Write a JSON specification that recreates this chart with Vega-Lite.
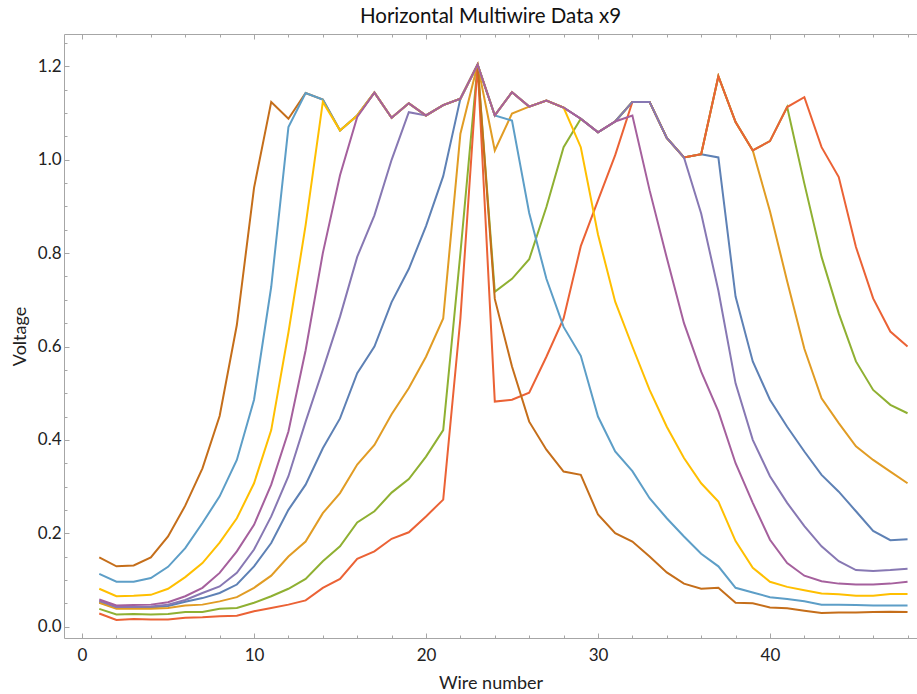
{
  "$schema": "https://vega.github.io/schema/vega-lite/v6.json",
  "autosize": "none",
  "width": 853,
  "height": 604,
  "padding": {"left": 64, "top": 34, "right": 0, "bottom": 56},
  "background": "white",
  "config": {
    "view": {"stroke": null},
    "font": "Lato",
    "axis": {"domainColor": "#a6a6a6", "tickColor": "#a6a6a6", "labelColor": "#222222", "titleColor": "#222222", "labelFont": "Lato", "titleFont": "Lato", "grid": false, "titleFontWeight": "normal"}
  },
  "title": {"text": "Horizontal Multiwire Data x9", "fontSize": 20.5, "font": "Lato", "fontWeight": "normal", "color": "#111111", "offset": 6},
  "data": {"values": [
{"s":"1","w":1,"v":0.052},{"s":"1","w":2,"v":0.040},{"s":"1","w":3,"v":0.040},{"s":"1","w":4,"v":0.041},{"s":"1","w":5,"v":0.044},{"s":"1","w":6,"v":0.053},{"s":"1","w":7,"v":0.061},{"s":"1","w":8,"v":0.072},{"s":"1","w":9,"v":0.090},{"s":"1","w":10,"v":0.129},{"s":"1","w":11,"v":0.179},{"s":"1","w":12,"v":0.250},{"s":"1","w":13,"v":0.304},{"s":"1","w":14,"v":0.382},{"s":"1","w":15,"v":0.446},{"s":"1","w":16,"v":0.543},{"s":"1","w":17,"v":0.600},{"s":"1","w":18,"v":0.695},{"s":"1","w":19,"v":0.766},{"s":"1","w":20,"v":0.858},{"s":"1","w":21,"v":0.965},{"s":"1","w":22,"v":1.131},{"s":"1","w":23,"v":1.204},{"s":"1","w":24,"v":1.095},{"s":"1","w":25,"v":1.145},{"s":"1","w":26,"v":1.114},{"s":"1","w":27,"v":1.127},{"s":"1","w":28,"v":1.112},{"s":"1","w":29,"v":1.088},{"s":"1","w":30,"v":1.059},{"s":"1","w":31,"v":1.082},{"s":"1","w":32,"v":1.124},{"s":"1","w":33,"v":1.124},{"s":"1","w":34,"v":1.047},{"s":"1","w":35,"v":1.005},{"s":"1","w":36,"v":1.012},{"s":"1","w":37,"v":1.005},{"s":"1","w":38,"v":0.707},{"s":"1","w":39,"v":0.568},{"s":"1","w":40,"v":0.486},{"s":"1","w":41,"v":0.428},{"s":"1","w":42,"v":0.375},{"s":"1","w":43,"v":0.325},{"s":"1","w":44,"v":0.289},{"s":"1","w":45,"v":0.247},{"s":"1","w":46,"v":0.205},{"s":"1","w":47,"v":0.185},{"s":"1","w":48,"v":0.187},
{"s":"2","w":1,"v":0.051},{"s":"2","w":2,"v":0.038},{"s":"2","w":3,"v":0.038},{"s":"2","w":4,"v":0.038},{"s":"2","w":5,"v":0.040},{"s":"2","w":6,"v":0.045},{"s":"2","w":7,"v":0.047},{"s":"2","w":8,"v":0.054},{"s":"2","w":9,"v":0.063},{"s":"2","w":10,"v":0.083},{"s":"2","w":11,"v":0.109},{"s":"2","w":12,"v":0.150},{"s":"2","w":13,"v":0.182},{"s":"2","w":14,"v":0.243},{"s":"2","w":15,"v":0.286},{"s":"2","w":16,"v":0.347},{"s":"2","w":17,"v":0.389},{"s":"2","w":18,"v":0.455},{"s":"2","w":19,"v":0.511},{"s":"2","w":20,"v":0.578},{"s":"2","w":21,"v":0.660},{"s":"2","w":22,"v":1.056},{"s":"2","w":23,"v":1.204},{"s":"2","w":24,"v":1.020},{"s":"2","w":25,"v":1.099},{"s":"2","w":26,"v":1.114},{"s":"2","w":27,"v":1.127},{"s":"2","w":28,"v":1.112},{"s":"2","w":29,"v":1.088},{"s":"2","w":30,"v":1.059},{"s":"2","w":31,"v":1.082},{"s":"2","w":32,"v":1.124},{"s":"2","w":33,"v":1.124},{"s":"2","w":34,"v":1.047},{"s":"2","w":35,"v":1.005},{"s":"2","w":36,"v":1.012},{"s":"2","w":37,"v":1.179},{"s":"2","w":38,"v":1.081},{"s":"2","w":39,"v":1.020},{"s":"2","w":40,"v":0.890},{"s":"2","w":41,"v":0.740},{"s":"2","w":42,"v":0.595},{"s":"2","w":43,"v":0.489},{"s":"2","w":44,"v":0.436},{"s":"2","w":45,"v":0.386},{"s":"2","w":46,"v":0.357},{"s":"2","w":47,"v":0.332},{"s":"2","w":48,"v":0.307},
{"s":"3","w":1,"v":0.038},{"s":"3","w":2,"v":0.026},{"s":"3","w":3,"v":0.027},{"s":"3","w":4,"v":0.026},{"s":"3","w":5,"v":0.027},{"s":"3","w":6,"v":0.031},{"s":"3","w":7,"v":0.031},{"s":"3","w":8,"v":0.038},{"s":"3","w":9,"v":0.040},{"s":"3","w":10,"v":0.051},{"s":"3","w":11,"v":0.065},{"s":"3","w":12,"v":0.081},{"s":"3","w":13,"v":0.102},{"s":"3","w":14,"v":0.140},{"s":"3","w":15,"v":0.172},{"s":"3","w":16,"v":0.223},{"s":"3","w":17,"v":0.247},{"s":"3","w":18,"v":0.287},{"s":"3","w":19,"v":0.316},{"s":"3","w":20,"v":0.364},{"s":"3","w":21,"v":0.421},{"s":"3","w":22,"v":0.800},{"s":"3","w":23,"v":1.204},{"s":"3","w":24,"v":0.717},{"s":"3","w":25,"v":0.745},{"s":"3","w":26,"v":0.787},{"s":"3","w":27,"v":0.899},{"s":"3","w":28,"v":1.027},{"s":"3","w":29,"v":1.088},{"s":"3","w":30,"v":1.059},{"s":"3","w":31,"v":1.082},{"s":"3","w":32,"v":1.124},{"s":"3","w":33,"v":1.124},{"s":"3","w":34,"v":1.047},{"s":"3","w":35,"v":1.005},{"s":"3","w":36,"v":1.012},{"s":"3","w":37,"v":1.179},{"s":"3","w":38,"v":1.081},{"s":"3","w":39,"v":1.020},{"s":"3","w":40,"v":1.040},{"s":"3","w":41,"v":1.113},{"s":"3","w":42,"v":0.949},{"s":"3","w":43,"v":0.792},{"s":"3","w":44,"v":0.671},{"s":"3","w":45,"v":0.568},{"s":"3","w":46,"v":0.507},{"s":"3","w":47,"v":0.475},{"s":"3","w":48,"v":0.457},
{"s":"4","w":1,"v":0.028},{"s":"4","w":2,"v":0.014},{"s":"4","w":3,"v":0.016},{"s":"4","w":4,"v":0.015},{"s":"4","w":5,"v":0.015},{"s":"4","w":6,"v":0.019},{"s":"4","w":7,"v":0.020},{"s":"4","w":8,"v":0.022},{"s":"4","w":9,"v":0.023},{"s":"4","w":10,"v":0.033},{"s":"4","w":11,"v":0.040},{"s":"4","w":12,"v":0.047},{"s":"4","w":13,"v":0.056},{"s":"4","w":14,"v":0.083},{"s":"4","w":15,"v":0.102},{"s":"4","w":16,"v":0.145},{"s":"4","w":17,"v":0.161},{"s":"4","w":18,"v":0.188},{"s":"4","w":19,"v":0.202},{"s":"4","w":20,"v":0.236},{"s":"4","w":21,"v":0.272},{"s":"4","w":22,"v":0.660},{"s":"4","w":23,"v":1.204},{"s":"4","w":24,"v":0.482},{"s":"4","w":25,"v":0.486},{"s":"4","w":26,"v":0.501},{"s":"4","w":27,"v":0.578},{"s":"4","w":28,"v":0.660},{"s":"4","w":29,"v":0.815},{"s":"4","w":30,"v":0.913},{"s":"4","w":31,"v":1.010},{"s":"4","w":32,"v":1.124},{"s":"4","w":33,"v":1.124},{"s":"4","w":34,"v":1.047},{"s":"4","w":35,"v":1.005},{"s":"4","w":36,"v":1.012},{"s":"4","w":37,"v":1.179},{"s":"4","w":38,"v":1.081},{"s":"4","w":39,"v":1.020},{"s":"4","w":40,"v":1.040},{"s":"4","w":41,"v":1.113},{"s":"4","w":42,"v":1.134},{"s":"4","w":43,"v":1.027},{"s":"4","w":44,"v":0.963},{"s":"4","w":45,"v":0.813},{"s":"4","w":46,"v":0.703},{"s":"4","w":47,"v":0.632},{"s":"4","w":48,"v":0.600},
{"s":"5","w":1,"v":0.055},{"s":"5","w":2,"v":0.042},{"s":"5","w":3,"v":0.042},{"s":"5","w":4,"v":0.043},{"s":"5","w":5,"v":0.047},{"s":"5","w":6,"v":0.057},{"s":"5","w":7,"v":0.072},{"s":"5","w":8,"v":0.086},{"s":"5","w":9,"v":0.115},{"s":"5","w":10,"v":0.165},{"s":"5","w":11,"v":0.236},{"s":"5","w":12,"v":0.322},{"s":"5","w":13,"v":0.439},{"s":"5","w":14,"v":0.550},{"s":"5","w":15,"v":0.664},{"s":"5","w":16,"v":0.792},{"s":"5","w":17,"v":0.881},{"s":"5","w":18,"v":1.000},{"s":"5","w":19,"v":1.102},{"s":"5","w":20,"v":1.095},{"s":"5","w":21,"v":1.117},{"s":"5","w":22,"v":1.131},{"s":"5","w":23,"v":1.204},{"s":"5","w":24,"v":1.095},{"s":"5","w":25,"v":1.145},{"s":"5","w":26,"v":1.114},{"s":"5","w":27,"v":1.127},{"s":"5","w":28,"v":1.112},{"s":"5","w":29,"v":1.088},{"s":"5","w":30,"v":1.059},{"s":"5","w":31,"v":1.082},{"s":"5","w":32,"v":1.124},{"s":"5","w":33,"v":1.124},{"s":"5","w":34,"v":1.047},{"s":"5","w":35,"v":1.005},{"s":"5","w":36,"v":0.885},{"s":"5","w":37,"v":0.720},{"s":"5","w":38,"v":0.521},{"s":"5","w":39,"v":0.400},{"s":"5","w":40,"v":0.322},{"s":"5","w":41,"v":0.265},{"s":"5","w":42,"v":0.215},{"s":"5","w":43,"v":0.172},{"s":"5","w":44,"v":0.140},{"s":"5","w":45,"v":0.121},{"s":"5","w":46,"v":0.119},{"s":"5","w":47,"v":0.121},{"s":"5","w":48,"v":0.124},
{"s":"6","w":1,"v":0.148},{"s":"6","w":2,"v":0.129},{"s":"6","w":3,"v":0.131},{"s":"6","w":4,"v":0.148},{"s":"6","w":5,"v":0.193},{"s":"6","w":6,"v":0.259},{"s":"6","w":7,"v":0.339},{"s":"6","w":8,"v":0.451},{"s":"6","w":9,"v":0.646},{"s":"6","w":10,"v":0.940},{"s":"6","w":11,"v":1.124},{"s":"6","w":12,"v":1.088},{"s":"6","w":13,"v":1.143},{"s":"6","w":14,"v":1.129},{"s":"6","w":15,"v":1.063},{"s":"6","w":16,"v":1.095},{"s":"6","w":17,"v":1.144},{"s":"6","w":18,"v":1.090},{"s":"6","w":19,"v":1.121},{"s":"6","w":20,"v":1.095},{"s":"6","w":21,"v":1.117},{"s":"6","w":22,"v":1.131},{"s":"6","w":23,"v":1.204},{"s":"6","w":24,"v":0.702},{"s":"6","w":25,"v":0.557},{"s":"6","w":26,"v":0.439},{"s":"6","w":27,"v":0.379},{"s":"6","w":28,"v":0.332},{"s":"6","w":29,"v":0.325},{"s":"6","w":30,"v":0.240},{"s":"6","w":31,"v":0.200},{"s":"6","w":32,"v":0.182},{"s":"6","w":33,"v":0.150},{"s":"6","w":34,"v":0.116},{"s":"6","w":35,"v":0.092},{"s":"6","w":36,"v":0.081},{"s":"6","w":37,"v":0.083},{"s":"6","w":38,"v":0.051},{"s":"6","w":39,"v":0.050},{"s":"6","w":40,"v":0.041},{"s":"6","w":41,"v":0.039},{"s":"6","w":42,"v":0.034},{"s":"6","w":43,"v":0.029},{"s":"6","w":44,"v":0.030},{"s":"6","w":45,"v":0.030},{"s":"6","w":46,"v":0.031},{"s":"6","w":47,"v":0.032},{"s":"6","w":48,"v":0.031},
{"s":"7","w":1,"v":0.113},{"s":"7","w":2,"v":0.096},{"s":"7","w":3,"v":0.096},{"s":"7","w":4,"v":0.104},{"s":"7","w":5,"v":0.128},{"s":"7","w":6,"v":0.168},{"s":"7","w":7,"v":0.222},{"s":"7","w":8,"v":0.279},{"s":"7","w":9,"v":0.357},{"s":"7","w":10,"v":0.486},{"s":"7","w":11,"v":0.728},{"s":"7","w":12,"v":1.070},{"s":"7","w":13,"v":1.143},{"s":"7","w":14,"v":1.129},{"s":"7","w":15,"v":1.063},{"s":"7","w":16,"v":1.095},{"s":"7","w":17,"v":1.144},{"s":"7","w":18,"v":1.090},{"s":"7","w":19,"v":1.121},{"s":"7","w":20,"v":1.095},{"s":"7","w":21,"v":1.117},{"s":"7","w":22,"v":1.131},{"s":"7","w":23,"v":1.204},{"s":"7","w":24,"v":1.095},{"s":"7","w":25,"v":1.084},{"s":"7","w":26,"v":0.886},{"s":"7","w":27,"v":0.745},{"s":"7","w":28,"v":0.642},{"s":"7","w":29,"v":0.580},{"s":"7","w":30,"v":0.450},{"s":"7","w":31,"v":0.375},{"s":"7","w":32,"v":0.333},{"s":"7","w":33,"v":0.275},{"s":"7","w":34,"v":0.232},{"s":"7","w":35,"v":0.193},{"s":"7","w":36,"v":0.156},{"s":"7","w":37,"v":0.129},{"s":"7","w":38,"v":0.083},{"s":"7","w":39,"v":0.073},{"s":"7","w":40,"v":0.063},{"s":"7","w":41,"v":0.059},{"s":"7","w":42,"v":0.054},{"s":"7","w":43,"v":0.047},{"s":"7","w":44,"v":0.047},{"s":"7","w":45,"v":0.046},{"s":"7","w":46,"v":0.045},{"s":"7","w":47,"v":0.045},{"s":"7","w":48,"v":0.045},
{"s":"8","w":1,"v":0.081},{"s":"8","w":2,"v":0.065},{"s":"8","w":3,"v":0.066},{"s":"8","w":4,"v":0.068},{"s":"8","w":5,"v":0.081},{"s":"8","w":6,"v":0.106},{"s":"8","w":7,"v":0.136},{"s":"8","w":8,"v":0.180},{"s":"8","w":9,"v":0.232},{"s":"8","w":10,"v":0.307},{"s":"8","w":11,"v":0.421},{"s":"8","w":12,"v":0.630},{"s":"8","w":13,"v":0.860},{"s":"8","w":14,"v":1.124},{"s":"8","w":15,"v":1.063},{"s":"8","w":16,"v":1.095},{"s":"8","w":17,"v":1.144},{"s":"8","w":18,"v":1.090},{"s":"8","w":19,"v":1.121},{"s":"8","w":20,"v":1.095},{"s":"8","w":21,"v":1.117},{"s":"8","w":22,"v":1.131},{"s":"8","w":23,"v":1.204},{"s":"8","w":24,"v":1.095},{"s":"8","w":25,"v":1.145},{"s":"8","w":26,"v":1.114},{"s":"8","w":27,"v":1.127},{"s":"8","w":28,"v":1.112},{"s":"8","w":29,"v":1.027},{"s":"8","w":30,"v":0.840},{"s":"8","w":31,"v":0.696},{"s":"8","w":32,"v":0.600},{"s":"8","w":33,"v":0.507},{"s":"8","w":34,"v":0.428},{"s":"8","w":35,"v":0.361},{"s":"8","w":36,"v":0.307},{"s":"8","w":37,"v":0.268},{"s":"8","w":38,"v":0.183},{"s":"8","w":39,"v":0.126},{"s":"8","w":40,"v":0.096},{"s":"8","w":41,"v":0.085},{"s":"8","w":42,"v":0.078},{"s":"8","w":43,"v":0.071},{"s":"8","w":44,"v":0.069},{"s":"8","w":45,"v":0.066},{"s":"8","w":46,"v":0.066},{"s":"8","w":47,"v":0.070},{"s":"8","w":48,"v":0.070},
{"s":"9","w":1,"v":0.058},{"s":"9","w":2,"v":0.045},{"s":"9","w":3,"v":0.046},{"s":"9","w":4,"v":0.047},{"s":"9","w":5,"v":0.052},{"s":"9","w":6,"v":0.065},{"s":"9","w":7,"v":0.083},{"s":"9","w":8,"v":0.115},{"s":"9","w":9,"v":0.161},{"s":"9","w":10,"v":0.218},{"s":"9","w":11,"v":0.304},{"s":"9","w":12,"v":0.418},{"s":"9","w":13,"v":0.592},{"s":"9","w":14,"v":0.800},{"s":"9","w":15,"v":0.967},{"s":"9","w":16,"v":1.092},{"s":"9","w":17,"v":1.144},{"s":"9","w":18,"v":1.090},{"s":"9","w":19,"v":1.121},{"s":"9","w":20,"v":1.095},{"s":"9","w":21,"v":1.117},{"s":"9","w":22,"v":1.131},{"s":"9","w":23,"v":1.204},{"s":"9","w":24,"v":1.095},{"s":"9","w":25,"v":1.145},{"s":"9","w":26,"v":1.114},{"s":"9","w":27,"v":1.127},{"s":"9","w":28,"v":1.112},{"s":"9","w":29,"v":1.088},{"s":"9","w":30,"v":1.059},{"s":"9","w":31,"v":1.082},{"s":"9","w":32,"v":1.095},{"s":"9","w":33,"v":0.935},{"s":"9","w":34,"v":0.790},{"s":"9","w":35,"v":0.650},{"s":"9","w":36,"v":0.546},{"s":"9","w":37,"v":0.461},{"s":"9","w":38,"v":0.350},{"s":"9","w":39,"v":0.265},{"s":"9","w":40,"v":0.186},{"s":"9","w":41,"v":0.136},{"s":"9","w":42,"v":0.109},{"s":"9","w":43,"v":0.097},{"s":"9","w":44,"v":0.092},{"s":"9","w":45,"v":0.090},{"s":"9","w":46,"v":0.090},{"s":"9","w":47,"v":0.092},{"s":"9","w":48,"v":0.096}
  ]},
  "resolve": {"axis": {"x": "independent", "y": "independent"}},
  "layer": [
    {
      "mark": {"type": "line", "strokeWidth": 2},
      "encoding": {
        "x": {"field": "w", "type": "quantitative",
              "scale": {"domain": [-1.05, 48.55], "nice": false, "zero": false},
              "axis": {"orient": "bottom", "values": [0, 10, 20, 30, 40], "tickSize": -5, "labelPadding": 14, "labelFontSize": 17, "title": "Wire number", "titleFontSize": 18, "titlePadding": 11, "labelFlush": false}},
        "y": {"field": "v", "type": "quantitative",
              "scale": {"domain": [-0.0245, 1.2695], "nice": false, "zero": false},
              "axis": {"orient": "left", "values": [0, 0.2, 0.4, 0.6, 0.8, 1.0, 1.2], "format": ".1f", "tickSize": -5, "labelPadding": 8, "labelFontSize": 17, "title": "Voltage", "titleFontSize": 18, "titlePadding": 8, "labelFlush": false}},
        "color": {"field": "s", "type": "nominal", "legend": null,
                  "scale": {"domain": ["1","2","3","4","5","6","7","8","9"],
                            "range": ["#5E81B5","#E19C24","#8FB032","#EB6235","#8778B3","#C56E1A","#5D9EC7","#FFBF00","#A5609D"]}}
      }
    },
    {
      "mark": {"type": "line", "opacity": 0},
      "encoding": {
        "x": {"field": "w", "type": "quantitative",
              "axis": {"orient": "bottom", "values": [2,4,6,8,12,14,16,18,22,24,26,28,32,34,36,38,42,44,46,48], "tickSize": -3, "labels": false, "domain": false, "title": null}},
        "y": {"field": "v", "type": "quantitative",
              "axis": {"orient": "left", "values": [0.05,0.1,0.15,0.25,0.3,0.35,0.45,0.5,0.55,0.65,0.7,0.75,0.85,0.9,0.95,1.05,1.1,1.15,1.25], "tickSize": -3, "labels": false, "domain": false, "title": null}},
        "detail": {"field": "s"}
      }
    },
    {
      "mark": {"type": "line", "opacity": 0},
      "encoding": {
        "x": {"field": "w", "type": "quantitative",
              "axis": {"orient": "top", "values": [0, 10, 20, 30, 40], "tickSize": -5, "labels": false, "domain": true, "title": null}},
        "y": {"field": "v", "type": "quantitative", "axis": null},
        "detail": {"field": "s"}
      }
    },
    {
      "mark": {"type": "line", "opacity": 0},
      "encoding": {
        "x": {"field": "w", "type": "quantitative",
              "axis": {"orient": "top", "values": [2,4,6,8,12,14,16,18,22,24,26,28,32,34,36,38,42,44,46,48], "tickSize": -3, "labels": false, "domain": false, "title": null}},
        "y": {"field": "v", "type": "quantitative", "axis": null},
        "detail": {"field": "s"}
      }
    }
  ]
}
